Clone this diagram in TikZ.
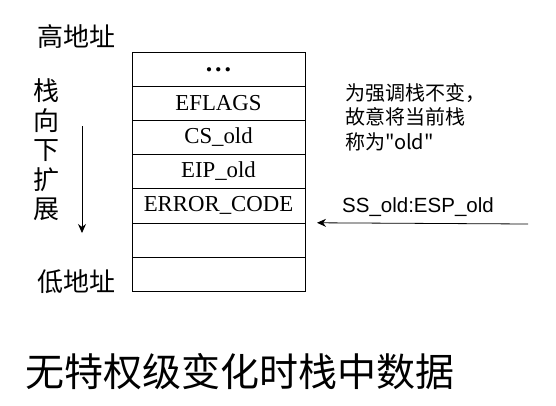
\documentclass[tikz,border=0pt]{standalone}
\usepackage{fontspec}
\setmainfont{Liberation Serif}
\newfontfamily\cjk{Noto Sans CJK SC}
\newfontfamily\gothic{Liberation Sans}
\usetikzlibrary{positioning,arrows.meta}
\begin{document}
\begin{tikzpicture}[x=1pt,y=-1pt,
  cell/.style={draw,minimum width=173pt,minimum height=34.15pt,inner sep=0pt,outer sep=0pt,font=\fontsize{22.8}{22.8}\selectfont},
  side/.style={font=\cjk\fontsize{26}{29.5}\selectfont,inner sep=0pt,align=center},
  note/.style={font=\cjk\fontsize{20}{24.5}\selectfont,align=left,inner sep=0pt},
  pointer/.style={-{Stealth[length=9pt,width=8pt]},thick}]
\useasboundingbox (0,0) rectangle (556,405);
% the stack, top to bottom
\node[cell] (c0) at (218.5,69.1) {};
\node[font=\fontsize{26}{26}\bfseries,inner sep=0pt] (dots) at (218.5,70) {.\kern3pt.\kern3pt.};
\foreach \t [count=\i] in {EFLAGS,CS\_old,EIP\_old,ERROR\_CODE,{},{}} {
  \pgfmathtruncatemacro\j{\i-1}
  \node[cell,below=0pt of c\j] (c\i) {\t};
}
% left side
\node[side] (high) at (76,37) {高地址};
\node[side] (low) at (76,282) {低地址};
\node[side] (dir) at (46,150) {栈\\向\\下\\扩\\展};
\coordinate (g0) at (82,126);
\coordinate (g1) at (82,233);
\draw[pointer] (g0) -- (g1);
% right side
\node[note,anchor=west] (why) at (345,117) {为强调栈不变，\\故意将当前栈\\称为"old"};
\coordinate (ptr) at (528,224);
\node[font=\gothic\fontsize{20.5}{20.5}\selectfont,anchor=west,inner sep=0pt] (esp) at (342,207) {SS\_old:ESP\_old};
\draw[pointer] (ptr) -- ([xshift=12pt]c4.south east);
% caption
\node[font=\cjk\fontsize{39}{39}\selectfont,inner sep=0pt] (title) at (240,372) {无特权级变化时栈中数据};
\end{tikzpicture}
\end{document}
